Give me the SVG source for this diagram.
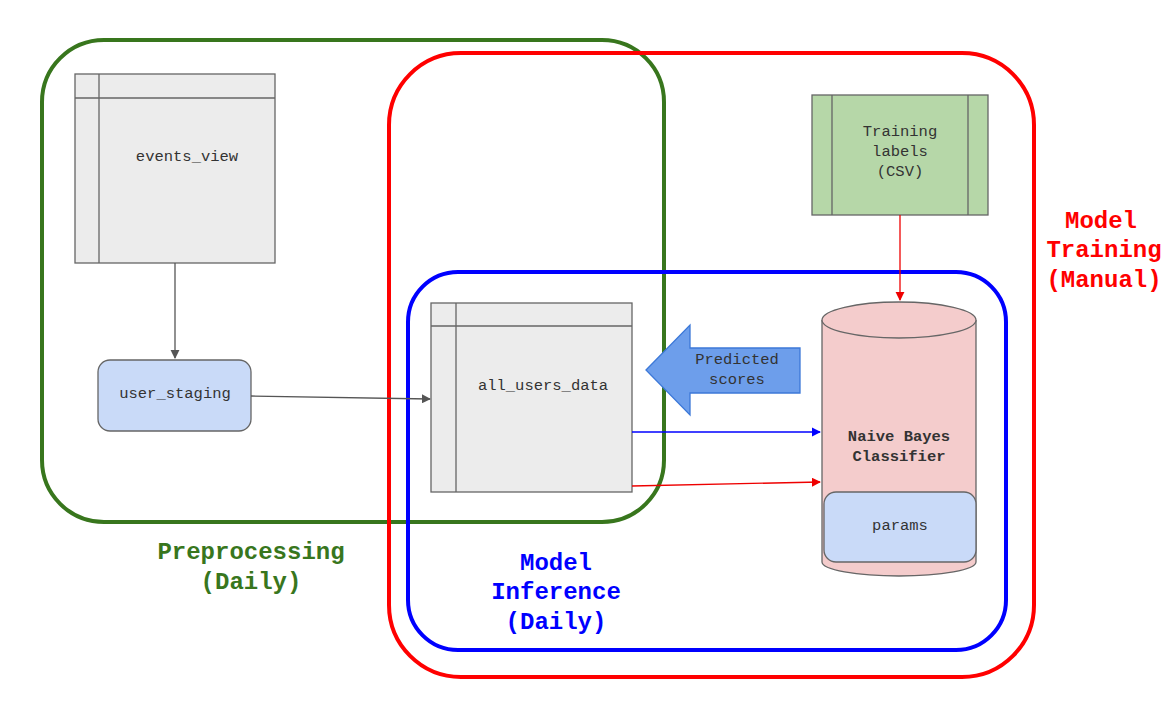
<svg xmlns="http://www.w3.org/2000/svg" width="1174" height="722" viewBox="0 0 1174 722">
<style>
text{font-family:"Liberation Mono","DejaVu Sans Mono",monospace;text-anchor:middle;dominant-baseline:middle}
.n{font-size:15.5px;fill:#333}
.tb{fill:#ececec;stroke:#666;stroke-width:1.3}
.ln{stroke:#666;stroke-width:1.3;fill:none}
.big{font-size:24px;font-weight:bold}
</style>
<defs>
<marker id="ag" viewBox="0 0 10 10" refX="9" refY="5" markerWidth="7" markerHeight="7" orient="auto"><path d="M0,0L10,5L0,10z" fill="#555"/></marker>
<marker id="ab" viewBox="0 0 10 10" refX="9" refY="5" markerWidth="7" markerHeight="7" orient="auto"><path d="M0,0L10,5L0,10z" fill="#00f"/></marker>
<marker id="ar" viewBox="0 0 10 10" refX="9" refY="5" markerWidth="7" markerHeight="7" orient="auto"><path d="M0,0L10,5L0,10z" fill="#e00"/></marker>
</defs>
<rect width="1174" height="722" fill="#fff"/>
<g id="groups" fill="none" stroke-width="4">
<rect x="42" y="40" width="622" height="482" rx="62" stroke="#38761d"/>
<rect x="389" y="53" width="645" height="624" rx="72" stroke="#f00"/>
<rect x="408" y="272" width="598" height="378" rx="50" stroke="#00f"/>
</g>
<g id="events_view"><rect class="tb" x="75" y="74" width="200" height="189"/><path class="ln" d="M75,98H275M99,74V263"/><text class="n" x="187" y="157">events_view</text></g>
<g id="user_staging"><rect x="98" y="360" width="153" height="71" rx="12" fill="#c9daf8" stroke="#666" stroke-width="1.3"/><text class="n" x="175" y="394">user_staging</text></g>
<g id="all_users_data"><rect class="tb" x="431" y="303" width="201" height="189"/><path class="ln" d="M431,326H632M456,303V492"/><text class="n" x="543" y="386">all_users_data</text></g>
<g id="training_labels"><rect x="812" y="95" width="176" height="120" fill="#b6d7a8" stroke="#666" stroke-width="1.3"/><path class="ln" d="M832,95V215M968,95V215"/><text class="n" x="900" y="132">Training</text><text class="n" x="900" y="152">labels</text><text class="n" x="900" y="172">(CSV)</text></g>
<g id="classifier">
<path d="M822,320V562A77,14 0 0 0 976,562V320" fill="#f4cccc" stroke="#666" stroke-width="1.3"/>
<ellipse cx="899" cy="320" rx="77" ry="18" fill="#f4cccc" stroke="#666" stroke-width="1.3"/>
<text class="n" x="899" y="437" font-weight="bold" fill="#000">Naive Bayes</text><text class="n" x="899" y="457" font-weight="bold" fill="#000">Classifier</text>
<rect x="824" y="492" width="152" height="70" rx="12" fill="#c9daf8" stroke="#666" stroke-width="1.3"/><text class="n" x="900" y="526">params</text>
</g>
<g id="predicted"><path d="M646,370L690,325V348H800V393H690V415Z" fill="#6d9eeb" stroke="#3c78d8" stroke-width="1.3"/><text class="n" x="737" y="360" fill="#222">Predicted</text><text class="n" x="737" y="380" fill="#222">scores</text></g>
<g id="connectors" fill="none" stroke-width="1.3">
<path d="M175,263V358" stroke="#555" marker-end="url(#ag)"/>
<path d="M251,396L430,399" stroke="#555" marker-end="url(#ag)"/>
<path d="M900,215V300" stroke="#e00" marker-end="url(#ar)"/>
<path d="M632,432H820" stroke="#00f" marker-end="url(#ab)"/>
<path d="M632,486L820,482" stroke="#e00" marker-end="url(#ar)"/>
</g>
<g id="labels" class="big">
<text class="big" x="251" y="553" fill="#38761d">Preprocessing</text><text class="big" x="251" y="583" fill="#38761d">(Daily)</text>
<text class="big" x="556" y="564" fill="#00f">Model</text><text class="big" x="556" y="593" fill="#00f">Inference</text><text class="big" x="556" y="623" fill="#00f">(Daily)</text>
<text class="big" x="1101" y="222" fill="#f00">Model</text><text class="big" x="1104" y="251" fill="#f00">Training</text><text class="big" x="1104" y="281" fill="#f00">(Manual)</text>
</g>
</svg>
